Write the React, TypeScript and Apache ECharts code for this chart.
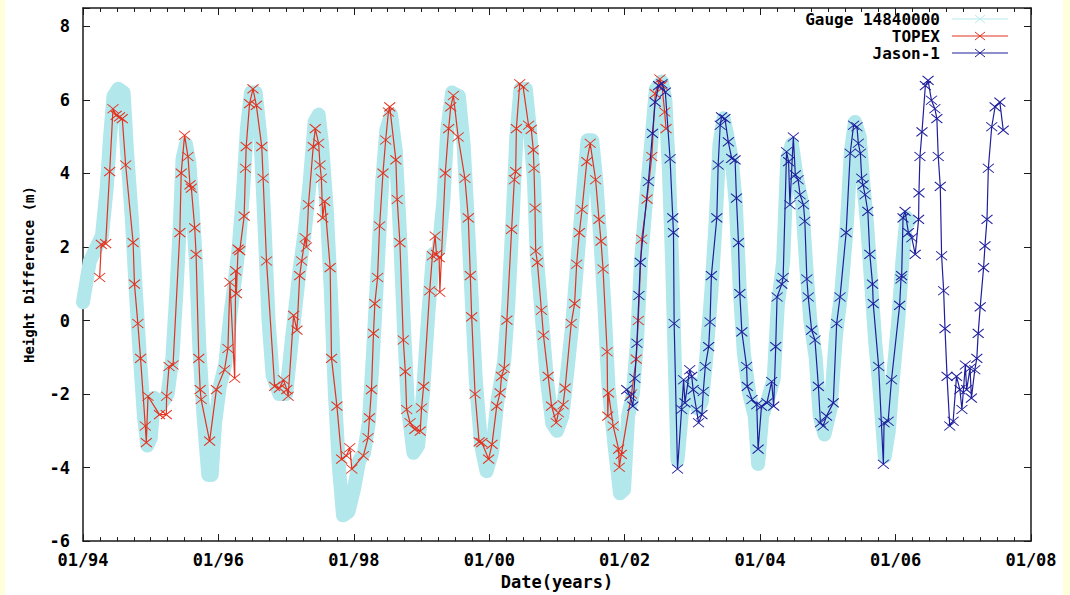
import React, { useEffect, useRef } from "react";
import * as echarts from "echarts";

// Gauge 14840000 (band centre line): [decimal year, metres]
const GAUGE: [number, number][] = [
  [1994.0, 0.5], [1994.1, 1.6], [1994.2, 2.0], [1994.28, 2.3], [1994.35, 3.6], [1994.4, 5.0],
  [1994.45, 6.1], [1994.52, 6.3], [1994.6, 6.2], [1994.65, 4.6], [1994.72, 2.8], [1994.78, 0.8],
  [1994.84, -1.0], [1994.9, -2.6], [1994.95, -3.4], [1995.0, -3.2], [1995.05, -2.1], [1995.15, -2.3],
  [1995.25, -2.0], [1995.32, -1.0], [1995.38, 0.8], [1995.43, 2.6], [1995.47, 4.4], [1995.52, 4.8],
  [1995.57, 4.3], [1995.62, 3.0], [1995.67, 1.5], [1995.72, -0.8], [1995.78, -2.6], [1995.85, -4.2],
  [1995.9, -4.2], [1995.95, -2.8], [1996.02, -1.8], [1996.1, -1.2], [1996.18, 0.2], [1996.25, 1.2],
  [1996.3, 2.0], [1996.36, 3.4], [1996.42, 5.2], [1996.48, 6.2], [1996.55, 6.2], [1996.62, 5.0],
  [1996.68, 2.6], [1996.74, 0.0], [1996.8, -1.5], [1996.9, -2.0], [1997.0, -2.0], [1997.08, -0.6],
  [1997.14, 0.4], [1997.2, 1.4], [1997.28, 2.5], [1997.35, 3.8], [1997.42, 5.4], [1997.48, 5.6],
  [1997.53, 4.8], [1997.6, 3.0], [1997.66, 0.8], [1997.72, -2.0], [1997.78, -4.0], [1997.84, -5.3],
  [1997.92, -5.2], [1998.0, -4.6], [1998.08, -3.8], [1998.15, -3.6], [1998.22, -2.8], [1998.28, -1.0],
  [1998.35, 1.4], [1998.42, 3.8], [1998.48, 5.2], [1998.55, 5.6], [1998.62, 4.6], [1998.68, 2.4],
  [1998.74, -0.2], [1998.8, -2.4], [1998.88, -3.6], [1998.95, -3.4], [1999.02, -2.0], [1999.1, 0.2],
  [1999.17, 1.8], [1999.25, 1.9], [1999.32, 3.2], [1999.38, 5.2], [1999.45, 6.2], [1999.55, 6.1],
  [1999.62, 4.8], [1999.68, 2.8], [1999.74, 0.6], [1999.8, -1.6], [1999.88, -3.4], [1999.96, -4.1],
  [2000.04, -3.6], [2000.12, -2.2], [2000.22, -1.1], [2000.28, 0.4], [2000.34, 2.6], [2000.4, 5.0],
  [2000.46, 6.3], [2000.54, 6.3], [2000.6, 5.2], [2000.66, 3.8], [2000.7, 1.8], [2000.78, 0.0],
  [2000.85, -1.6], [2000.93, -2.8], [2001.0, -3.0], [2001.08, -2.6], [2001.14, -1.6], [2001.22, -0.2],
  [2001.3, 1.6], [2001.38, 3.4], [2001.45, 4.9], [2001.52, 4.9], [2001.58, 3.8], [2001.64, 2.2],
  [2001.7, 0.4], [2001.76, -1.8], [2001.85, -3.4], [2001.93, -4.7], [2001.99, -4.6], [2002.05, -2.6],
  [2002.12, -2.0], [2002.18, -0.6], [2002.24, 1.6], [2002.32, 3.4], [2002.4, 5.0], [2002.46, 6.3],
  [2002.55, 6.5], [2002.6, 6.0], [2002.65, 4.2], [2002.7, 1.6], [2002.74, -1.2], [2002.78, -3.8],
  [2002.84, -2.6], [2002.92, -1.8], [2003.0, -1.7], [2003.08, -2.4], [2003.14, -2.2], [2003.2, -1.1],
  [2003.28, 0.8], [2003.34, 2.6], [2003.4, 4.8], [2003.46, 5.5], [2003.52, 5.0], [2003.58, 4.4],
  [2003.64, 3.2], [2003.7, 0.8], [2003.76, -0.9], [2003.84, -2.0], [2003.92, -2.6], [2003.97, -3.9],
  [2004.03, -2.6], [2004.12, -2.1], [2004.2, -1.6], [2004.26, 0.4], [2004.34, 1.6], [2004.4, 4.4],
  [2004.47, 4.8], [2004.54, 3.9], [2004.62, 3.2], [2004.68, 1.5], [2004.74, 0.0], [2004.82, -1.0],
  [2004.88, -2.6], [2004.95, -3.1], [2005.04, -2.4], [2005.12, -0.4], [2005.2, 0.8], [2005.28, 2.6],
  [2005.34, 4.6], [2005.4, 5.4], [2005.47, 5.0], [2005.52, 3.8], [2005.58, 2.6], [2005.64, 1.0],
  [2005.7, -0.6], [2005.76, -1.8], [2005.84, -3.7], [2005.9, -3.0], [2005.96, -1.6], [2006.04, 0.0],
  [2006.1, 1.6], [2006.16, 2.8], [2006.2, 2.7],
];

// TOPEX altimetry points
const TOPEX: [number, number][] = [
  [1994.246, 1.17], [1994.27, 2.07], [1994.335, 2.09], [1994.394, 4.05], [1994.443, 5.76],
  [1994.49, 5.58], [1994.54, 5.54], [1994.58, 5.49], [1994.63, 4.23], [1994.74, 2.12],
  [1994.76, 0.99], [1994.81, -0.08], [1994.85, -1.03], [1994.92, -2.87], [1994.935, -3.32],
  [1994.96, -2.06], [1995.13, -2.56], [1995.23, -2.56], [1995.235, -2.06], [1995.27, -1.25],
  [1995.33, -1.21], [1995.43, 2.39], [1995.45, 4.01], [1995.5, 5.04], [1995.55, 4.46],
  [1995.58, 3.69], [1995.6, 3.6], [1995.65, 2.52], [1995.67, 1.8], [1995.71, -1.03],
  [1995.73, -1.88], [1995.745, -2.15], [1995.87, -3.28], [1995.97, -1.88], [1996.09, -1.34],
  [1996.14, -0.76], [1996.17, 1.04], [1996.24, -1.57], [1996.255, 1.35], [1996.265, 0.73],
  [1996.29, 1.94], [1996.315, 1.9], [1996.38, 2.84], [1996.4, 4.14], [1996.41, 4.73],
  [1996.46, 5.9], [1996.51, 6.3], [1996.56, 5.85], [1996.64, 4.73], [1996.66, 3.87],
  [1996.71, 1.62], [1996.83, -1.79], [1996.9, -1.84], [1996.96, -1.61], [1997.01, -1.88],
  [1997.03, -2.06], [1997.11, 0.14], [1997.16, -0.26], [1997.2, 1.22], [1997.23, 1.62],
  [1997.28, 2.25], [1997.3, 2.0], [1997.33, 3.15], [1997.4, 4.73], [1997.43, 5.22],
  [1997.48, 4.82], [1997.5, 4.23], [1997.52, 3.87], [1997.54, 2.79], [1997.57, 3.24],
  [1997.65, 1.44], [1997.67, -1.03], [1997.75, -2.33], [1997.82, -3.77], [1997.89, -3.68],
  [1997.94, -3.46], [1997.97, -4.04], [1998.14, -3.68], [1998.21, -3.19], [1998.23, -2.65],
  [1998.26, -1.88], [1998.29, -0.35], [1998.31, 0.46], [1998.35, 1.17], [1998.38, 2.57],
  [1998.43, 4.01], [1998.47, 4.91], [1998.51, 5.67], [1998.53, 5.81], [1998.62, 4.37],
  [1998.64, 3.29], [1998.68, 2.12], [1998.73, -0.53], [1998.76, -1.39], [1998.78, -2.42],
  [1998.83, -2.78], [1998.9, -2.96], [1998.98, -3.01], [1999.0, -2.38], [1999.03, -1.79],
  [1999.12, 0.81], [1999.16, 1.76], [1999.2, 2.3], [1999.22, 1.8], [1999.26, 1.71],
  [1999.27, 0.77], [1999.35, 4.01], [1999.4, 5.22], [1999.43, 5.81], [1999.47, 6.12],
  [1999.54, 4.99], [1999.64, 3.87], [1999.69, 2.79], [1999.72, 1.22], [1999.74, 0.1],
  [1999.79, -2.0], [1999.85, -3.3], [1999.89, -3.32], [1999.99, -3.77], [2000.04, -3.37],
  [2000.11, -2.33], [2000.16, -1.97], [2000.18, -1.52], [2000.22, -1.3], [2000.26, 0.01],
  [2000.33, 2.48], [2000.37, 3.83], [2000.39, 4.05], [2000.4, 5.22], [2000.45, 6.44],
  [2000.5, 6.35], [2000.58, 5.31], [2000.62, 5.2], [2000.65, 4.64], [2000.66, 4.14],
  [2000.675, 3.06], [2000.685, 1.89], [2000.71, 1.58], [2000.77, 0.28], [2000.8, -0.4],
  [2000.87, -1.52], [2000.92, -2.33], [2000.99, -2.78], [2001.02, -2.51], [2001.09, -2.29],
  [2001.12, -1.84], [2001.21, -0.08], [2001.26, 0.46], [2001.29, 1.53], [2001.33, 2.39],
  [2001.37, 3.02], [2001.44, 4.32], [2001.49, 4.82], [2001.57, 3.83], [2001.62, 2.75],
  [2001.65, 2.16], [2001.68, 1.4], [2001.74, -0.85], [2001.75, -2.6], [2001.76, -1.97],
  [2001.83, -2.87], [2001.91, -3.5], [2001.92, -3.99], [2001.95, -3.64], [2002.1, -2.0],
  [2002.17, -1.05], [2002.2, 0.0], [2002.25, 2.21], [2002.33, 3.3], [2002.4, 4.46],
  [2002.45, 6.17], [2002.52, 6.57], [2002.55, 6.4], [2002.59, 5.67], [2002.61, 5.22],
];

// Jason-1 altimetry points
const JASON: [number, number][] = [
  [2002.03, -1.88], [2002.08, -2.06], [2002.12, -2.33], [2002.15, -1.57], [2002.18, -0.62],
  [2002.21, 0.68], [2002.23, 1.58], [2002.35, 3.78], [2002.41, 5.09], [2002.45, 5.94],
  [2002.5, 6.39], [2002.55, 6.44], [2002.6, 6.21], [2002.67, 4.4], [2002.71, 2.79],
  [2002.72, 2.39], [2002.73, -0.08], [2002.78, -4.04], [2002.84, -2.42], [2002.87, -1.61],
  [2002.89, -2.24], [2002.96, -1.34], [2002.99, -1.52], [2003.01, -1.88], [2003.06, -2.42],
  [2003.09, -2.78], [2003.14, -2.56], [2003.16, -1.93], [2003.19, -1.25], [2003.24, -0.71],
  [2003.26, -0.04], [2003.28, 1.22], [2003.36, 2.79], [2003.38, 4.23], [2003.41, 5.31],
  [2003.43, 5.54], [2003.48, 5.49], [2003.53, 4.86], [2003.58, 4.41], [2003.63, 4.37],
  [2003.65, 3.33], [2003.68, 2.12], [2003.7, 0.73], [2003.73, -0.31], [2003.8, -1.25],
  [2003.81, -1.79], [2003.88, -2.15], [2003.95, -2.29], [2003.97, -3.5], [2004.02, -2.33],
  [2004.1, -2.24], [2004.17, -1.66], [2004.2, -2.33], [2004.23, -0.71], [2004.25, 0.64],
  [2004.32, 0.99], [2004.34, 1.17], [2004.39, 4.59], [2004.42, 4.32], [2004.44, 3.15],
  [2004.49, 4.99], [2004.52, 3.96], [2004.56, 3.83], [2004.59, 3.42], [2004.64, 3.15],
  [2004.66, 2.7], [2004.69, 1.13], [2004.71, 0.64], [2004.76, -0.26], [2004.81, -0.53],
  [2004.86, -1.79], [2004.89, -2.78], [2004.93, -2.87], [2004.98, -2.6], [2005.08, -2.24],
  [2005.13, -0.08], [2005.18, 0.64], [2005.27, 2.39], [2005.33, 4.55], [2005.38, 5.31],
  [2005.43, 5.27], [2005.45, 4.82], [2005.48, 4.55], [2005.5, 3.87], [2005.52, 3.69],
  [2005.55, 3.42], [2005.59, 2.97], [2005.62, 1.8], [2005.66, 0.99], [2005.67, 0.46],
  [2005.75, -1.25], [2005.82, -3.91], [2005.83, -2.78], [2005.89, -2.74], [2005.94, -1.61],
  [2006.06, 0.41], [2006.08, 1.13], [2006.09, 1.22], [2006.11, 2.79], [2006.14, 2.97],
  [2006.19, 2.39], [2006.24, 2.25], [2006.29, 1.8], [2006.34, 2.75], [2006.345, 3.47],
  [2006.36, 4.46], [2006.39, 5.13], [2006.44, 6.39], [2006.48, 6.53], [2006.53, 5.99],
  [2006.58, 5.76], [2006.61, 5.49], [2006.63, 4.46], [2006.66, 3.65], [2006.68, 1.76],
  [2006.71, 0.81], [2006.73, -0.22], [2006.76, -1.52], [2006.8, -2.87], [2006.85, -2.74],
  [2006.9, -1.52], [2006.95, -1.88], [2006.98, -2.42], [2007.03, -1.21], [2007.05, -1.88],
  [2007.1, -1.3], [2007.12, -2.11], [2007.17, -1.34], [2007.2, -1.03], [2007.22, -0.35],
  [2007.25, 0.37], [2007.3, 1.44], [2007.32, 2.03], [2007.35, 2.75], [2007.37, 4.14],
  [2007.42, 5.27], [2007.47, 5.81], [2007.54, 5.94], [2007.59, 5.18],
];

const SERIES_NAMES = ["Gauge 14840000", "TOPEX", "Jason-1"];
const X_MIN = 1994;
const X_MAX = 2008;
const Y_MIN = -6;
const Y_MAX = 8.5;

const C_GAUGE = "#b2e7eb";
const C_GAUGE_LEG = "#b8ecef";
const C_TOPEX = "#e3321f";
const C_JASON = "#1f1f9c";
const AXIS_C = "#1a1a1a";
const FONT = '"DejaVu Sans Mono", monospace';
const XMARK = "path://M0,0L10,10M10,0L0,10";

const fmtX = (v: number) => "01/" + String(Math.round(v) % 100).padStart(2, "0");
const fmtY = (v: number) => (Math.abs(v % 2) < 1e-9 ? String(v) : "");

function legendItem(name: string, color: string, y: number, textRight: number, x1: number, x2: number) {
  const mx = (x1 + x2) / 2;
  return [
    {
      type: "text",
      x: textRight,
      y,
      style: { text: name, align: "right", verticalAlign: "middle", font: `bold 16px ${FONT}`, fill: "#000" },
    },
    { type: "line", shape: { x1, y1: y, x2, y2: y }, style: { stroke: color, lineWidth: 1.2 } },
    { type: "line", shape: { x1: mx - 5, y1: y - 4, x2: mx + 5, y2: y + 4 }, style: { stroke: color, lineWidth: 1 } },
    { type: "line", shape: { x1: mx - 5, y1: y + 4, x2: mx + 5, y2: y - 4 }, style: { stroke: color, lineWidth: 1 } },
  ];
}

export default function App() {
  const ref = useRef<HTMLDivElement>(null);
  useEffect(() => {
    if (!ref.current) return;
    const chart = echarts.init(ref.current, null, { renderer: "svg" });
    const axisCommon = {
      type: "value",
      axisLine: { show: true, onZero: false, lineStyle: { color: AXIS_C, width: 1.5 } },
      axisTick: { show: true, inside: true, length: 7, lineStyle: { color: AXIS_C, width: 1 } },
      splitLine: { show: false },
    };
    const xCommon = {
      ...axisCommon,
      min: X_MIN,
      max: X_MAX,
      interval: 2,
      minorTick: { show: true, splitNumber: 8, length: 4, lineStyle: { color: AXIS_C, width: 1 } },
      minorSplitLine: { show: false },
    };
    const yCommon = { ...axisCommon, min: Y_MIN, max: Y_MAX, interval: 2 };
    const labelFont = { color: "#000", fontFamily: FONT, fontWeight: "bold", fontSize: 17 };
    const option = {
      animation: false,
      backgroundColor: "#ffffff",
      grid: { left: 83, right: 39, top: 8, bottom: 49, containLabel: false },
      xAxis: [
        {
          ...xCommon,
          position: "bottom",
          axisLabel: { formatter: fmtX, ...labelFont, margin: 10 },
          name: "Date(years)",
          nameLocation: "middle",
          nameGap: 31,
          nameTextStyle: { ...labelFont },
        },
        { ...xCommon, position: "top", axisLabel: { show: false } },
      ],
      yAxis: [
        {
          ...yCommon,
          position: "left",
          axisLabel: { formatter: fmtY, ...labelFont, margin: 13 },
          name: "Height Difference (m)",
          nameLocation: "middle",
          nameRotate: 90,
          nameGap: 47,
          nameTextStyle: { color: "#000", fontFamily: FONT, fontWeight: "bold", fontSize: 14 },
        },
        { ...yCommon, position: "right", axisLabel: { show: false } },
      ],
      series: [
        {
          name: SERIES_NAMES[0],
          type: "line",
          data: GAUGE,
          symbol: "none",
          smooth: false,
          z: 1,
          lineStyle: { color: C_GAUGE, width: 14, cap: "round", join: "round" },
        },
        {
          name: SERIES_NAMES[1],
          type: "line",
          data: TOPEX,
          symbol: XMARK,
          symbolSize: [11, 9],
          showAllSymbol: true,
          z: 2,
          lineStyle: { color: C_TOPEX, width: 1.2 },
          itemStyle: { color: "transparent", borderColor: C_TOPEX, borderWidth: 1 },
        },
        {
          name: SERIES_NAMES[2],
          type: "line",
          data: JASON,
          symbol: XMARK,
          symbolSize: [11, 9],
          showAllSymbol: true,
          z: 3,
          lineStyle: { color: C_JASON, width: 1.2 },
          itemStyle: { color: "transparent", borderColor: C_JASON, borderWidth: 1 },
        },
      ],
      graphic: [
        { type: "rect", shape: { x: 0, y: 0, width: 5, height: 595 }, style: { fill: "#ffffdc" }, silent: true },
        { type: "rect", shape: { x: 1063, y: 0, width: 7, height: 595 }, style: { fill: "#ffffdc" }, silent: true },
        ...legendItem(SERIES_NAMES[0], C_GAUGE_LEG, 19, 940, 952, 1008),
        ...legendItem(SERIES_NAMES[1], C_TOPEX, 36, 940, 952, 1008),
        ...legendItem(SERIES_NAMES[2], C_JASON, 53, 940, 952, 1008),
      ],
    };
    chart.setOption(option as any);
    return () => chart.dispose();
  }, []);
  return (
    <div
      ref={ref}
      style={{ position: "fixed", left: 0, top: 0, width: 1070, height: 595, background: "#fff" }}
    />
  );
}
